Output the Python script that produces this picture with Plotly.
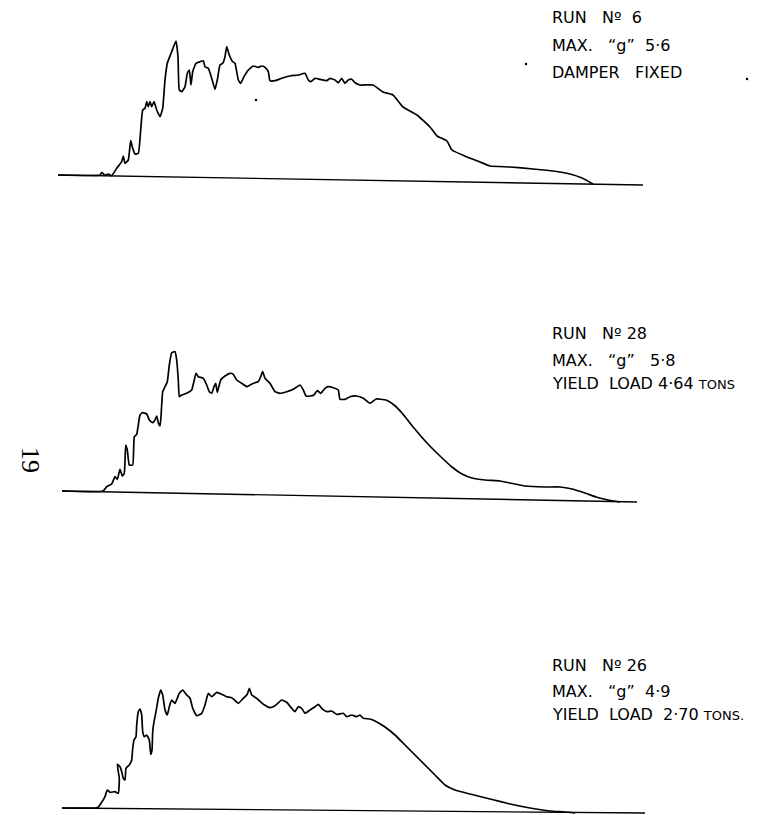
import plotly.graph_objects as go

# ---------------- data: record traces (position along record, deflection above baseline) ----------------
run6_t = [58, 100, 101.7, 105, 108.3, 111.7, 116.7, 121.7, 123.3, 125, 128.3, 130.7, 132.7, 135, 138.3, 140.7,
          142.7, 145, 146.7, 148.3, 150, 151.7, 154, 156.7, 160, 162.7, 165, 167.3, 171.7, 176, 178, 179.3,
          181.7, 185, 187.3, 189.3, 191, 192.7, 196, 200, 203.3, 205, 208.3, 211.7, 215, 217.3, 220, 222.7,
          225, 226.7, 229.3, 232.7, 235, 238.3, 240.7, 244, 248.3, 253.3, 258.3, 261.7, 265, 268.3, 270, 275,
          281.7, 290, 298.3, 305, 308.3, 310.7, 315, 320, 326.7, 330, 335, 338.3, 341.7, 345, 348.3, 351.7,
          355, 360, 373, 383, 393, 403, 417, 430, 437, 447, 452, 467, 480, 490, 510, 533, 553, 570, 582, 593]
run6_d = [0, 0, 2.3, -0.3, 1, -0.7, 6.7, 13.3, 19, 11.7, 15, 34.3, 26.7, 21, 21.7, 45,
          65, 66.7, 73.3, 68.3, 73.3, 68.3, 73.3, 65, 58.3, 66.7, 95, 111.7, 123.3, 134, 118.3, 85,
          83.3, 88.3, 101.7, 105, 90, 103.3, 111.7, 113.3, 114.3, 108.3, 106.7, 96.7, 85.7, 95, 110, 111.7,
          118.3, 128.3, 120, 113.3, 111.7, 95, 91.7, 98.3, 105, 109, 107.7, 109, 107.7, 103.3, 94.3, 94.3,
          96.7, 99, 100, 101.7, 95, 93.3, 96.7, 95.7, 94.3, 96.7, 95, 92.3, 96.7, 91.7, 95, 95.7,
          92.3, 90, 90, 83, 80, 68, 60, 48, 39, 34, 25, 18, 13, 9, 8, 6, 4, 1, -3, -9]

run28_t = [62, 103, 106.7, 111.7, 115, 117.3, 120, 122.3, 124.3, 125.7, 127.3, 129.3, 132.7, 134.3, 136.7,
           138.3, 140, 142.7, 146.7, 149.3, 152.7, 155, 156.7, 158.3, 160, 161, 162.7, 165, 167.3, 169.3,
           171.7, 175, 176.7, 178.3, 179.3, 181.7, 186.7, 191.7, 196, 198.3, 203.3, 206.7, 209.3, 211.7,
           214, 215.7, 217.3, 220.7, 225, 230, 233.3, 236.7, 241.7, 246.7, 250, 255, 258.3, 260.7, 262.7,
           265, 270, 275, 280, 286.7, 293.3, 300, 303.3, 306, 310, 314, 317.3, 320.7, 325, 328.3, 333.3,
           338.3, 340, 345, 350, 356.7, 363.3, 370, 376, 386, 394, 402, 414, 427, 440, 452, 462, 472, 485,
           500, 510, 525, 545, 560, 572, 585, 596, 608, 620]
run28_d = [0, 0, 4.3, 7, 14.3, 11.7, 21.7, 15, 17.7, 46, 41, 26, 26, 54.3, 56.7,
           66, 76, 78.3, 77, 71, 68.3, 71, 75, 68.3, 65, 74.3, 99.3, 104.3, 109.3, 126,
           138.3, 139.3, 131, 111, 94.3, 96, 97.7, 101, 117.7, 114.3, 112.7, 106, 99.3, 97.7,
           104.3, 107.7, 98.7, 111, 115, 117.7, 116.7, 111, 107.7, 104.3, 106, 108.3, 109.3, 114.3, 119.3,
           112.7, 107.7, 99.3, 97.7, 99.3, 101.7, 106, 101, 95, 95, 96, 100.3, 97.7, 102.7, 104.3, 103.3,
           101, 91.7, 91.7, 94.3, 95, 92.7, 87.7, 92, 91, 86, 78, 63, 48, 35, 24, 17, 13, 11,
           10, 8, 5, 4, 4, 2, -2, -6, -9, -11]

run26_t = [62, 96, 98.3, 101.7, 105, 107.3, 110, 115, 118.3, 119.3, 117.3, 120, 121.7, 123.3, 125, 126,
           129.3, 131.7, 132.7, 134, 136, 136.7, 138.3, 140, 141.7, 142.7, 144.3, 146.7, 149.3, 150.7, 152,
           152.7, 154, 156, 158.3, 160.7, 162.7, 165, 167.3, 169.3, 171.7, 175, 179.3, 182.7, 186.7, 190,
           192.7, 196.7, 201.7, 205, 208.3, 211.7, 216.7, 221.7, 226.7, 231.7, 238.3, 243.3, 247.3, 249.3,
           251.7, 256.7, 263.3, 270, 275, 281.7, 286.7, 291.7, 295, 298.3, 301.7, 305, 310, 315, 318.3,
           321.7, 326.7, 331.7, 336.7, 343.3, 346.7, 351.7, 356.7, 360, 363.3, 370, 375, 385, 395, 405, 415,
           425, 435, 445, 455, 470, 490, 510, 530, 550, 565, 575]
run26_d = [0, 0, 1, 5.7, 11.3, 18, 15.7, 16.3, 14.7, 29.7, 43.7, 41.3, 36.3, 29.7, 28, 39.7,
           43, 48, 59.7, 68, 71.3, 83, 96.3, 99, 93, 76.3, 71.3, 73, 68, 53.7, 58,
           76.3, 86.3, 96.3, 109.7, 118, 113, 98, 93, 101.3, 108, 104.7, 114.7, 118, 113, 109.7,
           99.7, 92.3, 94.7, 103, 114.7, 111.3, 115.7, 113.7, 111.3, 110.3, 104.7, 109.7, 113.7, 119.7,
           113, 109.7, 103.7, 100.3, 102.3, 108, 105.7, 99.7, 96.3, 101.3, 99.7, 94.7, 98, 101.3, 103.7,
           99.7, 96.3, 97, 93.7, 94.7, 91.3, 93, 91.3, 93, 89.7, 89, 87, 81, 73, 63, 53,
           43, 33, 23, 18, 14, 9, 4, 0, -3, -4, -5]

# baselines (start / end of record zero line)
base6_t, base6_d = [58, 643], [0, -10]
base28_t, base28_d = [62, 637], [0, -11]
base26_t, base26_d = [62, 645], [0, -5]

# stray specks on the scanned sheet (panel 1)
speck_t = [256, 526, 747]
speck_d = [75, 111, 96]

S = "\u00a0"
SM = lambda s: "<span style='font-size:13px'>" + s + "</span>"
labels = [
    ["RUN" + S * 3 + "Nº" + S * 2 + "6", "MAX." + S * 3 + "“g”" + S * 2 + "5·6", "DAMPER" + S * 3 + "FIXED"],
    ["RUN" + S * 3 + "Nº" + S + "28", "MAX." + S * 3 + "“g”" + S * 3 + "5·8",
     "YIELD" + S * 2 + "LOAD" + S + "4·64" + S + SM("TONS")],
    ["RUN" + S * 3 + "Nº" + S + "26", "MAX." + S * 3 + "“g”" + S * 2 + "4·9",
     "YIELD" + S * 2 + "LOAD" + S * 2 + "2·70" + S + SM("TONS.")],
]

# ---------------- figure ----------------
W, H = 762, 815
base_px = [175, 491, 808]      # pixel row of each record's zero line
label_rows = [[18, 45, 72], [333, 360, 384], [665, 691, 714]]
label_x = 550

fig = go.Figure()
line = dict(color="black", width=1.7)
bl = dict(color="black", width=1.4)

panels = [(run6_t, run6_d, base6_t, base6_d), (run28_t, run28_d, base28_t, base28_d),
          (run26_t, run26_d, base26_t, base26_d)]
for i, (t, d, bt, bd) in enumerate(panels):
    ya = "y" if i == 0 else f"y{i+1}"
    fig.add_trace(go.Scatter(x=bt, y=bd, mode="lines", line=bl, yaxis=ya, hoverinfo="skip"))
    fig.add_trace(go.Scatter(x=t, y=d, mode="lines", line=line, yaxis=ya,
                             line_shape="spline", line_smoothing=0.4))

fig.add_trace(go.Scatter(x=speck_t, y=speck_d, mode="markers", marker=dict(color="black", size=2.5),
                         yaxis="y"))

axcommon = dict(visible=False, showgrid=False, zeroline=False, fixedrange=True)
layout_axes = {}
for i, b in enumerate(base_px):
    key = "yaxis" if i == 0 else f"yaxis{i+1}"
    ax = dict(axcommon, range=[b - H, b], domain=[0, 1])
    if i > 0:
        ax["overlaying"] = "y"
    layout_axes[key] = ax

fig.update_layout(
    width=W, height=H, autosize=False,
    margin=dict(l=0, r=0, t=0, b=0),
    paper_bgcolor="white", plot_bgcolor="white",
    showlegend=False,
    xaxis=dict(axcommon, range=[0, W], domain=[0, 1]),
    **layout_axes,
)

for rows, txts in zip(label_rows, labels):
    for yy, txt in zip(rows, txts):
        fig.add_annotation(x=label_x / W, y=1 - yy / H, xref="paper", yref="paper",
                           text=txt, showarrow=False, xanchor="left", yanchor="middle",
                           font=dict(family="DejaVu Sans", size=16, color="black"))

# page number printed sideways at the left margin
fig.add_annotation(x=30 / W, y=1 - 460 / H, xref="paper", yref="paper", text="19",
                   showarrow=False, textangle=90, xanchor="center", yanchor="middle",
                   font=dict(family="Liberation Serif", size=26, color="black"))

fig.write_html("out.html")
